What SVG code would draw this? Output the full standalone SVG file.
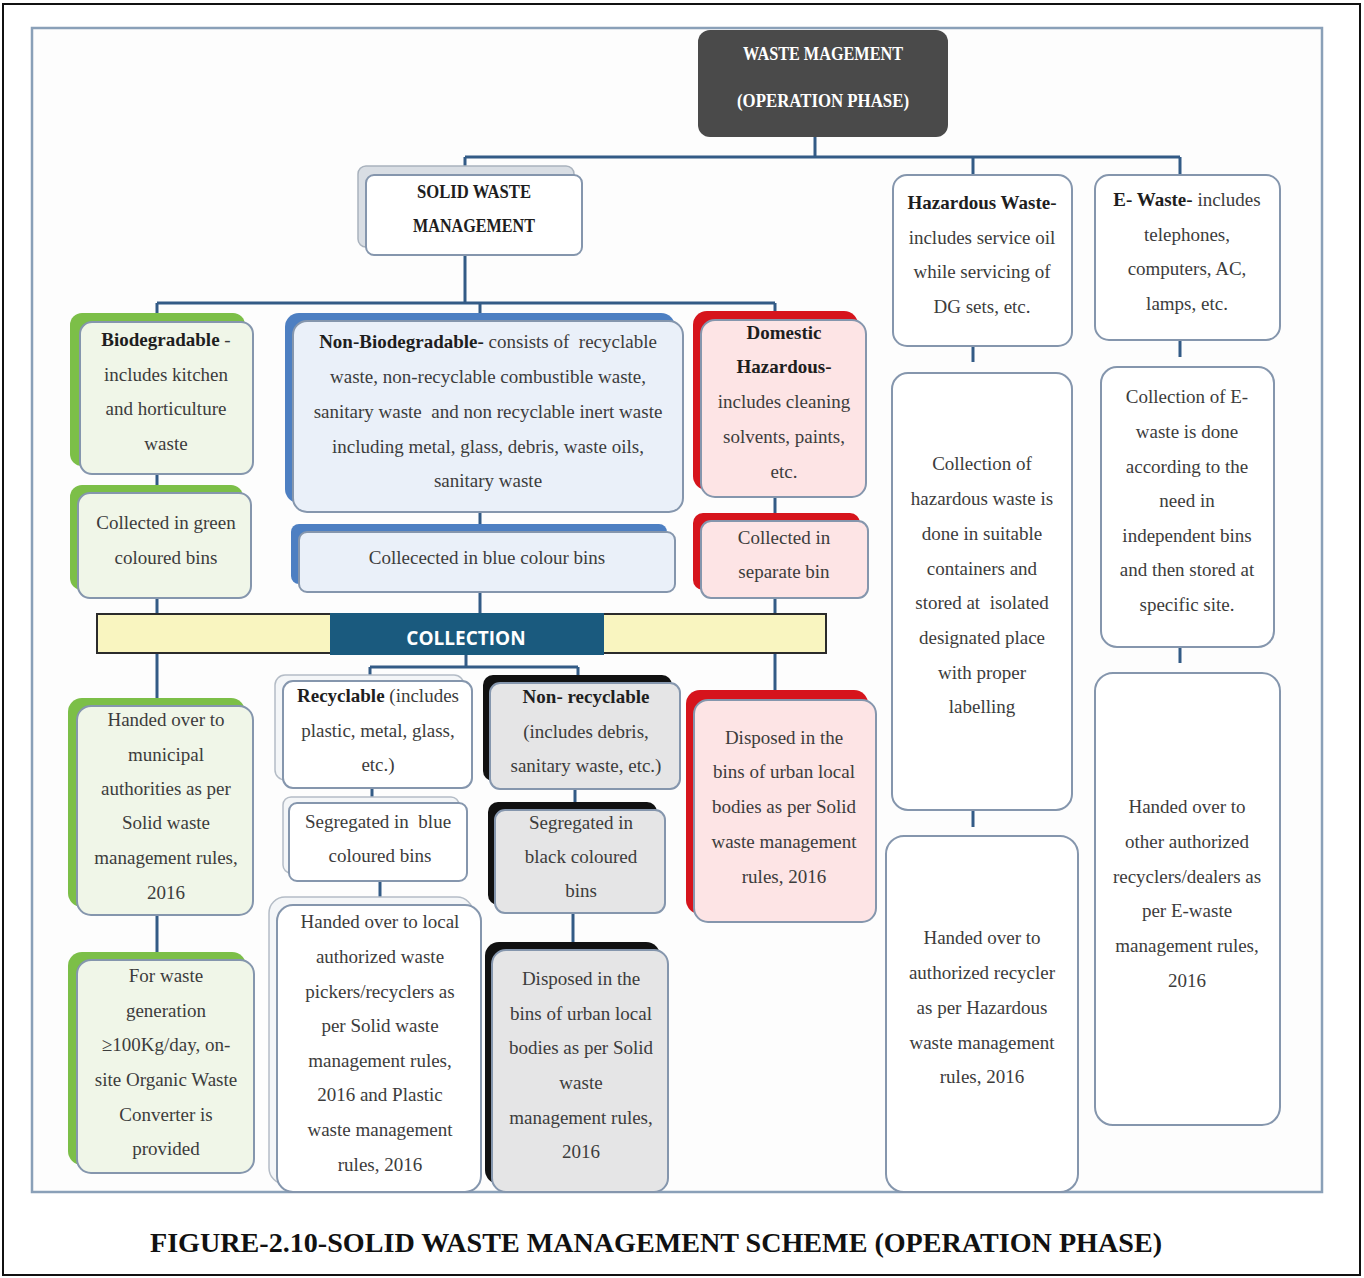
<svg xmlns="http://www.w3.org/2000/svg" width="1364" height="1278" viewBox="0 0 1364 1278">
<style>
.t{font-family:"Liberation Serif",serif;font-size:19px;fill:#3c3c3c;text-anchor:middle}
.b{font-weight:bold;fill:#1e1e1e}
.front{stroke:#8596ad;stroke-width:2}
.plain{fill:#ffffff;stroke:#8596ad;stroke-width:2}
.ghost{fill:#f4f6f8;stroke:#b4bcc6;stroke-width:1.5}
.g{fill:#7cbf48}
.bl{fill:#4d7fc2}
.r{fill:#d6141c}
.k{fill:#111111}
.conn line,.conn path{stroke:#335b86;stroke-width:3;fill:none}
</style>
<rect x="3" y="4" width="1357" height="1271" fill="#ffffff" stroke="#111" stroke-width="2"/>
<rect x="32" y="28" width="1290" height="1164" fill="#fdfdfd" stroke="#8aa0b8" stroke-width="2.5"/>

<g class="conn">
<line x1="815" y1="137" x2="815" y2="157"/>
<line x1="465" y1="157" x2="1180" y2="157"/>
<line x1="465" y1="157" x2="465" y2="170"/>
<line x1="973" y1="157" x2="973" y2="175"/>
<line x1="1180" y1="157" x2="1180" y2="175"/>
<line x1="465" y1="255" x2="465" y2="303"/>
<line x1="157" y1="303" x2="775" y2="303"/>
<line x1="157" y1="303" x2="157" y2="315"/>
<line x1="480" y1="303" x2="480" y2="315"/>
<line x1="775" y1="303" x2="775" y2="315"/>
<line x1="157" y1="474" x2="157" y2="487"/>
<line x1="480" y1="512" x2="480" y2="527"/>
<line x1="775" y1="497" x2="775" y2="515"/>
<line x1="157" y1="598" x2="157" y2="614"/>
<line x1="480" y1="592" x2="480" y2="614"/>
<line x1="775" y1="598" x2="775" y2="614"/>
<line x1="157" y1="653" x2="157" y2="700"/>
<line x1="466" y1="655" x2="466" y2="667"/>
<line x1="370" y1="667" x2="578" y2="667"/>
<line x1="370" y1="667" x2="370" y2="678"/>
<line x1="578" y1="667" x2="578" y2="678"/>
<line x1="775" y1="653" x2="775" y2="694"/>
<line x1="157" y1="915" x2="157" y2="955"/>
<line x1="372" y1="788" x2="372" y2="800"/>
<line x1="380" y1="881" x2="380" y2="900"/>
<line x1="575" y1="789" x2="575" y2="805"/>
<line x1="573" y1="913" x2="573" y2="945"/>
<line x1="973" y1="346" x2="973" y2="362"/>
<line x1="973" y1="810" x2="973" y2="827"/>
<line x1="1180" y1="340" x2="1180" y2="357"/>
<line x1="1180" y1="640" x2="1180" y2="663"/>
</g>

<g id="n-top">
<rect x="698" y="30" width="250" height="107" rx="12" fill="#4a4a4a"/>
<text x="823" y="60" class="t b" style="fill:#fff" font-size="18" textLength="160" lengthAdjust="spacingAndGlyphs">WASTE MAGEMENT</text>
<text x="823" y="107" class="t b" style="fill:#fff" font-size="18" textLength="172" lengthAdjust="spacingAndGlyphs">(OPERATION PHASE)</text>
</g>

<g id="n-swm">
<rect x="358" y="166" width="216" height="81" rx="8" fill="#d9dee4" stroke="#a9b2bd" stroke-width="1.5"/>
<rect x="366" y="175" width="216" height="80" rx="8" class="plain"/>
<text x="474" y="198" class="t b" textLength="114" lengthAdjust="spacingAndGlyphs">SOLID WASTE</text>
<text x="474" y="232" class="t b" textLength="122" lengthAdjust="spacingAndGlyphs">MANAGEMENT</text>
</g>

<g id="n-bio">
<rect x="70" y="313" width="175" height="153" rx="12" class="g"/>
<rect x="80" y="322" width="173" height="152" rx="12" class="front" fill="#f0f6e8"/>
<text x="166" y="346" class="t"><tspan class="b">Biodegradable</tspan> -</text>
<text x="166" y="381" class="t">includes kitchen</text>
<text x="166" y="415" class="t">and horticulture</text>
<text x="166" y="450" class="t">waste</text>
</g>

<g id="n-green">
<rect x="70" y="485" width="173" height="105" rx="12" class="g"/>
<rect x="78" y="493" width="173" height="105" rx="12" class="front" fill="#f0f6e8"/>
<text x="166" y="529" class="t">Collected in green</text>
<text x="166" y="564" class="t">coloured bins</text>
</g>

<g id="n-nonbio">
<rect x="285" y="313" width="390" height="190" rx="14" class="bl"/>
<rect x="293" y="321" width="390" height="191" rx="14" class="front" fill="#eaf0f9"/>
<text x="488" y="348" class="t" xml:space="preserve"><tspan class="b">Non-Biodegradable-</tspan> consists of  recyclable</text>
<text x="488" y="383" class="t">waste, non-recyclable combustible waste,</text>
<text x="488" y="418" class="t" xml:space="preserve">sanitary waste  and non recyclable inert waste</text>
<text x="488" y="453" class="t">including metal, glass, debris, waste oils,</text>
<text x="488" y="487" class="t">sanitary waste</text>
</g>

<g id="n-bluebin">
<rect x="291" y="524" width="376" height="60" rx="8" class="bl"/>
<rect x="299" y="532" width="376" height="60" rx="8" class="front" fill="#eaf0f9"/>
<text x="487" y="564" class="t">Collecected in blue colour bins</text>
</g>

<g id="n-domhaz">
<rect x="693" y="311" width="165" height="179" rx="14" class="r"/>
<rect x="701" y="320" width="165" height="177" rx="14" class="front" fill="#fde4e5"/>
<text x="784" y="339" class="t b">Domestic</text>
<text x="784" y="373" class="t b">Hazardous-</text>
<text x="784" y="408" class="t">includes cleaning</text>
<text x="784" y="443" class="t">solvents, paints,</text>
<text x="784" y="478" class="t">etc.</text>
</g>

<g id="n-sepbin">
<rect x="693" y="513" width="167" height="77" rx="10" class="r"/>
<rect x="701" y="521" width="167" height="77" rx="10" class="front" fill="#fde4e5"/>
<text x="784" y="544" class="t">Collected in</text>
<text x="784" y="578" class="t">separate bin</text>
</g>

<g id="n-collection">
<rect x="97" y="614" width="729" height="39" fill="#f9f5c0" stroke="#2b2b2b" stroke-width="2"/>
<rect x="330" y="613" width="274" height="42" fill="#1a5a7e"/>
<text x="466" y="645" font-family="'Open Sans','Liberation Sans',sans-serif" font-size="19" font-weight="bold" fill="#ffffff" text-anchor="middle">COLLECTION</text>
</g>

<g id="n-municipal">
<rect x="68" y="698" width="177" height="209" rx="14" class="g"/>
<rect x="77" y="706" width="176" height="209" rx="14" class="front" fill="#f0f6e8"/>
<text x="166" y="726" class="t">Handed over to</text>
<text x="166" y="761" class="t">municipal</text>
<text x="166" y="795" class="t">authorities as per</text>
<text x="166" y="829" class="t">Solid waste</text>
<text x="166" y="864" class="t">management rules,</text>
<text x="166" y="899" class="t">2016</text>
</g>

<g id="n-organic">
<rect x="68" y="952" width="178" height="213" rx="14" class="g"/>
<rect x="77" y="960" width="177" height="213" rx="14" class="front" fill="#f0f6e8"/>
<text x="166" y="982" class="t">For waste</text>
<text x="166" y="1017" class="t">generation</text>
<text x="166" y="1051" class="t">≥100Kg/day, on-</text>
<text x="166" y="1086" class="t">site Organic Waste</text>
<text x="166" y="1121" class="t">Converter is</text>
<text x="166" y="1155" class="t">provided</text>
</g>

<g id="n-recyclable">
<rect x="275" y="675" width="189" height="105" rx="10" class="ghost"/>
<rect x="283" y="681" width="189" height="107" rx="10" class="plain"/>
<text x="378" y="702" class="t"><tspan class="b">Recyclable</tspan> (includes</text>
<text x="378" y="737" class="t">plastic, metal, glass,</text>
<text x="378" y="771" class="t">etc.)</text>
</g>

<g id="n-segblue">
<rect x="283" y="797" width="176" height="76" rx="8" class="ghost"/>
<rect x="289" y="803" width="178" height="78" rx="8" class="plain"/>
<text x="378" y="828" class="t" xml:space="preserve">Segregated in  blue</text>
<text x="380" y="862" class="t">coloured bins</text>
</g>

<g id="n-local">
<rect x="269" y="897" width="204" height="287" rx="16" class="ghost"/>
<rect x="277" y="905" width="204" height="287" rx="16" class="plain"/>
<text x="380" y="928" class="t">Handed over to local</text>
<text x="380" y="963" class="t">authorized waste</text>
<text x="380" y="998" class="t">pickers/recyclers as</text>
<text x="380" y="1032" class="t">per Solid waste</text>
<text x="380" y="1067" class="t">management rules,</text>
<text x="380" y="1101" class="t">2016 and Plastic</text>
<text x="380" y="1136" class="t">waste management</text>
<text x="380" y="1171" class="t">rules, 2016</text>
</g>

<g id="n-nonrec">
<rect x="483" y="675" width="189" height="106" rx="10" class="k"/>
<rect x="490" y="683" width="190" height="106" rx="10" class="front" fill="#e5e5e6"/>
<text x="586" y="703" class="t b">Non- recyclable</text>
<text x="586" y="738" class="t">(includes debris,</text>
<text x="586" y="772" class="t">sanitary waste, etc.)</text>
</g>

<g id="n-segblack">
<rect x="488" y="802" width="169" height="103" rx="10" class="k"/>
<rect x="495" y="810" width="170" height="103" rx="10" class="front" fill="#e5e5e6"/>
<text x="581" y="829" class="t">Segregated in</text>
<text x="581" y="863" class="t">black coloured</text>
<text x="581" y="897" class="t">bins</text>
</g>

<g id="n-ulb-black">
<rect x="485" y="942" width="175" height="242" rx="14" class="k"/>
<rect x="492" y="950" width="176" height="242" rx="14" class="front" fill="#e5e5e6"/>
<text x="581" y="985" class="t">Disposed in the</text>
<text x="581" y="1020" class="t">bins of urban local</text>
<text x="581" y="1054" class="t">bodies as per Solid</text>
<text x="581" y="1089" class="t">waste</text>
<text x="581" y="1124" class="t">management rules,</text>
<text x="581" y="1158" class="t">2016</text>
</g>

<g id="n-ulb-red">
<rect x="686" y="690" width="182" height="224" rx="14" class="r"/>
<rect x="694" y="700" width="182" height="222" rx="14" class="front" fill="#fde4e5"/>
<text x="784" y="744" class="t">Disposed in the</text>
<text x="784" y="778" class="t">bins of urban local</text>
<text x="784" y="813" class="t">bodies as per Solid</text>
<text x="784" y="848" class="t">waste management</text>
<text x="784" y="883" class="t">rules, 2016</text>
</g>

<g id="n-haz">
<rect x="893" y="175" width="179" height="171" rx="14" class="plain"/>
<text x="982" y="209" class="t b">Hazardous Waste-</text>
<text x="982" y="244" class="t">includes service oil</text>
<text x="982" y="278" class="t">while servicing of</text>
<text x="982" y="313" class="t">DG sets, etc.</text>
</g>

<g id="n-hazcol">
<rect x="892" y="373" width="180" height="437" rx="16" class="plain"/>
<text x="982" y="470" class="t">Collection of</text>
<text x="982" y="505" class="t">hazardous waste is</text>
<text x="982" y="540" class="t">done in suitable</text>
<text x="982" y="575" class="t">containers and</text>
<text x="982" y="609" class="t" xml:space="preserve">stored at  isolated</text>
<text x="982" y="644" class="t">designated place</text>
<text x="982" y="679" class="t">with proper</text>
<text x="982" y="713" class="t">labelling</text>
</g>

<g id="n-hazhand">
<rect x="886" y="836" width="192" height="356" rx="18" class="plain"/>
<text x="982" y="944" class="t">Handed over to</text>
<text x="982" y="979" class="t">authorized recycler</text>
<text x="982" y="1014" class="t">as per Hazardous</text>
<text x="982" y="1049" class="t">waste management</text>
<text x="982" y="1083" class="t">rules, 2016</text>
</g>

<g id="n-ewaste">
<rect x="1095" y="175" width="185" height="165" rx="14" class="plain"/>
<text x="1187" y="206" class="t"><tspan class="b">E- Waste-</tspan> includes</text>
<text x="1187" y="241" class="t">telephones,</text>
<text x="1187" y="275" class="t">computers, AC,</text>
<text x="1187" y="310" class="t">lamps, etc.</text>
</g>

<g id="n-ecol">
<rect x="1101" y="367" width="173" height="280" rx="16" class="plain"/>
<text x="1187" y="403" class="t">Collection of E-</text>
<text x="1187" y="438" class="t">waste is done</text>
<text x="1187" y="473" class="t">according to the</text>
<text x="1187" y="507" class="t">need in</text>
<text x="1187" y="542" class="t">independent bins</text>
<text x="1187" y="576" class="t">and then stored at</text>
<text x="1187" y="611" class="t">specific site.</text>
</g>

<g id="n-ehand">
<rect x="1095" y="673" width="185" height="452" rx="18" class="plain"/>
<text x="1187" y="813" class="t">Handed over to</text>
<text x="1187" y="848" class="t">other authorized</text>
<text x="1187" y="883" class="t">recyclers/dealers as</text>
<text x="1187" y="917" class="t">per E-waste</text>
<text x="1187" y="952" class="t">management rules,</text>
<text x="1187" y="987" class="t">2016</text>
</g>

<text x="656" y="1252" font-family="'Liberation Serif',serif" font-size="28" font-weight="bold" fill="#111" text-anchor="middle" textLength="1012" lengthAdjust="spacingAndGlyphs">FIGURE-2.10-SOLID WASTE MANAGEMENT SCHEME (OPERATION PHASE)</text>
</svg>
